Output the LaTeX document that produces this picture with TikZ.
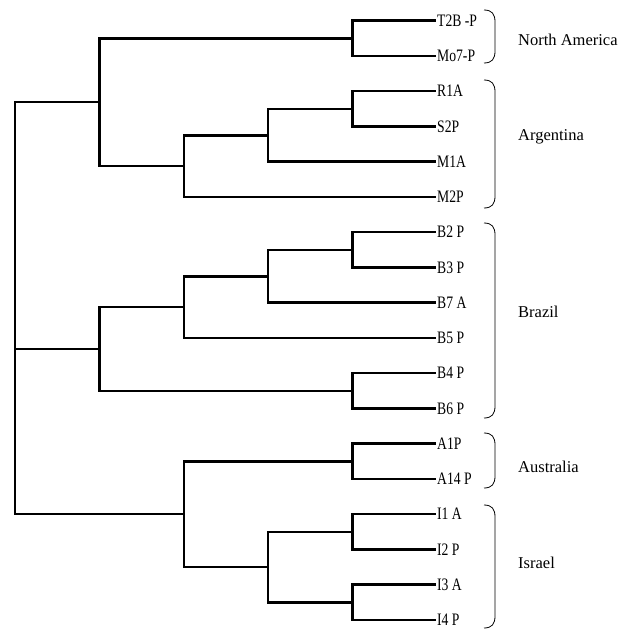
\documentclass[tikz,border=0pt]{standalone}
\usepackage{fontspec}
\setmainfont{Liberation Serif}
\newfontfamily\leaffont[FakeStretch=0.78]{Liberation Serif}
\usepackage{tikz}

\begin{document}
\begin{tikzpicture}[x=1pt,y=-1pt,
	branch/.style={line width=2.5pt},
	leaf/.style={anchor=west,inner sep=1pt,font=\leaffont\fontsize{17.5}{19}\selectfont},
	region/.style={anchor=west,inner sep=0pt,font=\fontsize{16.5}{18}\selectfont},
	brace/.style={line width=0.8pt}]
\useasboundingbox (0,0) rectangle (630,629);
\foreach \nm/\lab [count=\i] in {t2b/T2B -P,mo7/Mo7-P,r1a/R1A,s2p/S2P,m1a/M1A,m2p/M2P,
		b2p/B2 P,b3p/B3 P,b7a/B7 A,b5p/B5 P,b4p/B4 P,b6p/B6 P,
		a1p/A1P,a14p/A14 P,i1a/I1 A,i2p/I2 P,i3a/I3 A,i4p/I4 P}
	\node[leaf] (\nm) at (436,{20.7+35.25*(\i-1)}) {\lab};
\coordinate (na) at (352.5,38.3);
\coordinate (ar1) at (352.5,108.8);
\coordinate (ar2) at (268,135.3);
\coordinate (ar3) at (184,166.1);
\coordinate (upper) at (99.5,102.2);
\coordinate (br1) at (352.5,249.8);
\coordinate (br2) at (268,276.3);
\coordinate (br3) at (184,307.1);
\coordinate (br4) at (352.5,390.8);
\coordinate (middle) at (99.5,349.0);
\coordinate (au) at (352.5,461.3);
\coordinate (is1) at (352.5,531.8);
\coordinate (is2) at (352.5,602.3);
\coordinate (is3) at (268,567.1);
\coordinate (lower) at (184,514.2);
\coordinate (root) at (15,349.0);
\draw[branch] (na) |- (t2b.west) (na) |- (mo7.west);
\draw[branch] (ar1) |- (r1a.west) (ar1) |- (s2p.west);
\draw[branch] (ar2) |- (ar1) (ar2) |- (m1a.west);
\draw[branch] (ar3) |- (ar2) (ar3) |- (m2p.west);
\draw[branch] (upper) |- (na) (upper) |- (ar3);
\draw[branch] (br1) |- (b2p.west) (br1) |- (b3p.west);
\draw[branch] (br2) |- (br1) (br2) |- (b7a.west);
\draw[branch] (br3) |- (br2) (br3) |- (b5p.west);
\draw[branch] (br4) |- (b4p.west) (br4) |- (b6p.west);
\draw[branch] (middle) |- (br3) (middle) |- (br4);
\draw[branch] (au) |- (a1p.west) (au) |- (a14p.west);
\draw[branch] (is1) |- (i1a.west) (is1) |- (i2p.west);
\draw[branch] (is2) |- (i3a.west) (is2) |- (i4p.west);
\draw[branch] (is3) |- (is1) (is3) |- (is2);
\draw[branch] (lower) |- (au) (lower) |- (is3);
\draw[branch] (root) |- (upper) (root) -- (middle) (root) |- (lower);
\foreach \nm/\ya/\yb/\ym/\lab in {northam/10/63/40/North America,argent/80/208/137/Argentina,
		brazil/223/418/311.7/Brazil,austral/433/488/466.7/Australia,israel/505/628/563/Israel} {
	\draw[brace] (484,\ya) .. controls (492,\ya) and (495,\ya+4) .. (495,\ya+12)
		-- (495,\yb-12) .. controls (495,\yb-4) and (492,\yb) .. (484,\yb);
	\node[region] (\nm) at (518,\ym) {\lab};}
\end{tikzpicture}
\end{document}
